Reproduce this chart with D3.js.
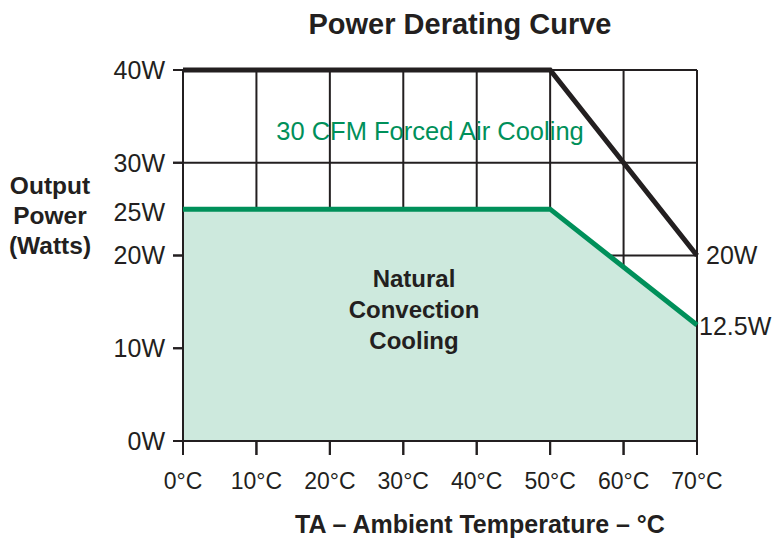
<!DOCTYPE html>
<html><head><meta charset="utf-8">
<script src="https://cdn.jsdelivr.net/npm/d3@7"></script>
<style>body{margin:0;background:#fff}svg{display:block;font-family:"Liberation Sans",Arial,sans-serif}</style>
</head><body><svg id="c" width="774" height="538"></svg>
<script>
const temps = [0, 10, 20, 30, 40, 50, 60, 70];
const xTickLabels = ["0°C","10°C","20°C","30°C","40°C","50°C","60°C","70°C"];
const yTicks = [0, 10, 20, 30, 40];
const yTickLabels = ["0W","10W","20W","30W","40W"];
const forcedT = [0, 50, 70];
const forcedW = [40, 40, 20];
const naturalT = [0, 50, 70];
const naturalW = [25, 25, 12.5];

const svg = d3.select("#c");
const x = d3.scaleLinear().domain([0,70]).range([183,697]);
const y = d3.scaleLinear().domain([0,40]).range([441,70]);
const ink = "#231f20", green = "#00905a", fill = "#cde9dd";

// gridlines
const g = svg.append("g");
g.selectAll(".vg").data(temps).join("line")
  .attr("x1",d=>x(d)).attr("x2",d=>x(d)).attr("y1",y(40)).attr("y2",y(0)+14)
  .attr("stroke",ink).attr("stroke-width",2);
g.selectAll(".hg").data(yTicks).join("line")
  .attr("x1",x(0)-10).attr("x2",d=>d===0?x(0):x(70)).attr("y1",d=>y(d)).attr("y2",d=>y(d))
  .attr("stroke",ink).attr("stroke-width",2);

// natural convection area
const natData = naturalT.map((t,i)=>({t,w:naturalW[i]}));
svg.append("path").datum(natData)
  .attr("d", d3.area().x(d=>x(d.t)).y0(y(0)).y1(d=>y(d.w)))
  .attr("fill", fill);
// axes on top of fill
svg.append("line").attr("x1",x(0)).attr("x2",x(0)).attr("y1",y(40)).attr("y2",y(0)+14).attr("stroke",ink).attr("stroke-width",2);
svg.append("line").attr("x1",x(70)).attr("x2",x(70)).attr("y1",y(40)).attr("y2",y(0)+14).attr("stroke",ink).attr("stroke-width",2);
svg.append("line").attr("x1",x(0)).attr("x2",x(70)).attr("y1",y(0)).attr("y2",y(0)).attr("stroke",ink).attr("stroke-width",2);
svg.selectAll(".xt").data(temps).join("line")
  .attr("x1",d=>x(d)).attr("x2",d=>x(d)).attr("y1",y(0)).attr("y2",y(0)+14)
  .attr("stroke",ink).attr("stroke-width",2);
svg.selectAll(".yt").data(yTicks).join("line")
  .attr("x1",x(0)-10).attr("x2",x(0)).attr("y1",d=>y(d)).attr("y2",d=>y(d))
  .attr("stroke",ink).attr("stroke-width",2);

const line = d3.line().x(d=>x(d.t)).y(d=>y(d.w));
svg.append("path").datum(natData).attr("d",line).attr("fill","none")
  .attr("stroke",green).attr("stroke-width",5);
const fData = forcedT.map((t,i)=>({t,w:forcedW[i]}));
svg.append("path").datum(fData).attr("d",line).attr("fill","none")
  .attr("stroke",ink).attr("stroke-width",5);

// labels
svg.selectAll(".yl").data(yTicks).join("text")
  .attr("x",165).attr("y",d=>y(d)).attr("dy","0.35em").attr("text-anchor","end")
  .attr("font-size",25).attr("fill",ink).text((d,i)=>yTickLabels[i]);
svg.append("text").attr("x",165).attr("y",y(25)+3).attr("dy","0.35em").attr("text-anchor","end")
  .attr("font-size",25).attr("fill",ink).text("25W");
svg.selectAll(".xl").data(temps).join("text")
  .attr("x",d=>x(d)).attr("y",481).attr("dy","0.35em").attr("text-anchor","middle")
  .attr("font-size",23).attr("fill",ink).text((d,i)=>xTickLabels[i]);

svg.append("text").attr("x",x(70)+9).attr("y",y(20)).attr("dy","0.35em")
  .attr("font-size",25).attr("fill",ink).text("20W");
svg.append("text").attr("x",x(70)+2).attr("y",y(12.5)+1).attr("dy","0.35em")
  .attr("font-size",25).attr("fill",ink).text("12.5W");

svg.append("text").attr("x",460).attr("y",24).attr("dy","0.35em").attr("text-anchor","middle")
  .attr("font-size",29).attr("font-weight","bold").attr("fill",ink).text("Power Derating Curve");
svg.append("text").attr("x",430).attr("y",131).attr("dy","0.35em").attr("text-anchor","middle")
  .attr("font-size",25.5).attr("fill",green).text("30 CFM Forced Air Cooling");

const nat = ["Natural","Convection","Cooling"];
svg.selectAll(".nt").data(nat).join("text")
  .attr("x",414).attr("y",(d,i)=>279+i*31).attr("dy","0.35em").attr("text-anchor","middle")
  .attr("font-size",24).attr("font-weight","bold").attr("fill",ink).text(d=>d);

const yt = ["Output","Power","(Watts)"];
svg.selectAll(".ytl").data(yt).join("text")
  .attr("x",50).attr("y",(d,i)=>185+i*30).attr("dy","0.35em").attr("text-anchor","middle")
  .attr("font-size",24.5).attr("font-weight","bold").attr("fill",ink).text(d=>d);

svg.append("text").attr("x",480).attr("y",524).attr("dy","0.35em").attr("text-anchor","middle")
  .attr("font-size",25).attr("font-weight","bold").attr("fill",ink).text("TA – Ambient Temperature – °C");
</script></body></html>
